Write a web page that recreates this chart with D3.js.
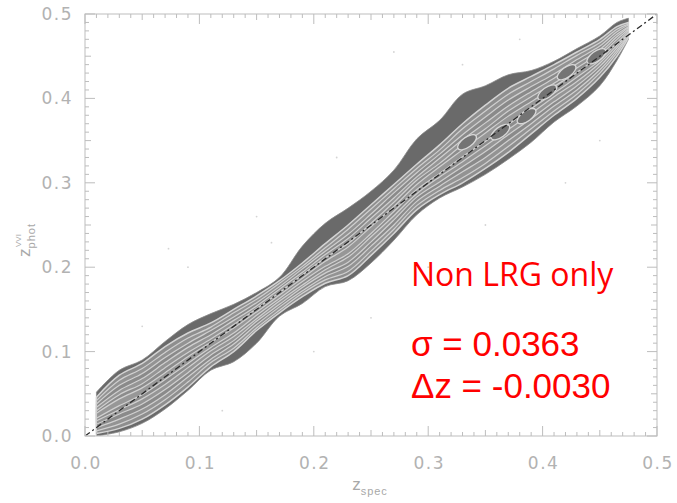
<!DOCTYPE html>
<html>
<head>
<meta charset="utf-8">
<script src="https://cdn.jsdelivr.net/npm/d3@7"></script>
<style>
body { margin: 0; background: #fff; }
</style>
</head>
<body>
<script>
// z_phot vs z_spec density contours, non-LRG sample

// axis ticks
var tickValues = [0, 0.1, 0.2, 0.3, 0.4, 0.5];
var tickLabels = ["0.0", "0.1", "0.2", "0.3", "0.4", "0.5"];

// contour envelopes (z_phot) sampled at zsGrid (z_spec)
var zsGrid     = [0.010, 0.030, 0.050, 0.070, 0.090, 0.110, 0.130, 0.150, 0.170, 0.190, 0.210, 0.230, 0.250, 0.270, 0.290, 0.310, 0.330, 0.350, 0.370, 0.390, 0.410, 0.430, 0.450, 0.465, 0.475];
var outerUpper = [0.052, 0.078, 0.090, 0.112, 0.132, 0.145, 0.156, 0.170, 0.188, 0.225, 0.252, 0.270, 0.290, 0.315, 0.352, 0.374, 0.405, 0.415, 0.428, 0.433, 0.444, 0.459, 0.474, 0.490, 0.495];
var outerLower = [0.000, 0.005, 0.015, 0.032, 0.054, 0.078, 0.088, 0.110, 0.142, 0.157, 0.177, 0.184, 0.205, 0.232, 0.262, 0.282, 0.295, 0.310, 0.328, 0.348, 0.372, 0.391, 0.415, 0.445, 0.470];
var bodyUpper  = [0.046, 0.072, 0.086, 0.106, 0.122, 0.134, 0.150, 0.166, 0.184, 0.205, 0.228, 0.250, 0.274, 0.298, 0.322, 0.345, 0.370, 0.392, 0.412, 0.426, 0.440, 0.455, 0.470, 0.485, 0.490];
var bodyLower  = [0.003, 0.009, 0.020, 0.037, 0.058, 0.082, 0.100, 0.125, 0.146, 0.165, 0.181, 0.190, 0.214, 0.240, 0.268, 0.286, 0.300, 0.317, 0.336, 0.358, 0.380, 0.400, 0.425, 0.450, 0.472];
var ridge      = [0.024, 0.040, 0.053, 0.071, 0.090, 0.108, 0.125, 0.145, 0.165, 0.185, 0.204, 0.220, 0.244, 0.269, 0.295, 0.315, 0.335, 0.354, 0.374, 0.392, 0.410, 0.428, 0.448, 0.468, 0.481];

// half widths of the inner contour levels around the ridge
var level2 = [0.018, 0.026, 0.027, 0.028, 0.026, 0.021, 0.021, 0.017, 0.016, 0.016, 0.019, 0.025, 0.025, 0.024, 0.022, 0.024, 0.029, 0.031, 0.031, 0.028, 0.025, 0.023, 0.018, 0.014, 0.007];
var level3 = [0.014, 0.020, 0.021, 0.022, 0.020, 0.017, 0.016, 0.013, 0.012, 0.013, 0.015, 0.019, 0.019, 0.019, 0.017, 0.019, 0.022, 0.024, 0.024, 0.022, 0.019, 0.018, 0.014, 0.011, 0.006];
var level4 = [0.010, 0.014, 0.015, 0.016, 0.015, 0.012, 0.012, 0.009, 0.009, 0.009, 0.011, 0.014, 0.014, 0.013, 0.012, 0.014, 0.016, 0.017, 0.017, 0.016, 0.014, 0.013, 0.010, 0.008, 0.004];
var level5 = [0.006, 0.009, 0.009, 0.010, 0.009, 0.007, 0.007, 0.006, 0.005, 0.006, 0.007, 0.008, 0.008, 0.008, 0.008, 0.008, 0.010, 0.010, 0.011, 0.010, 0.008, 0.008, 0.006, 0.005, 0.003];
var level6 = [0.003, 0.004, 0.004, 0.004, 0.004, 0.003, 0.003, 0.002, 0.002, 0.002, 0.003, 0.004, 0.004, 0.003, 0.003, 0.004, 0.004, 0.005, 0.005, 0.004, 0.004, 0.003, 0.003, 0.002, 0.001];

// density peaks along the ridge (z_spec, z_phot)
var peakZs = [0.334, 0.363, 0.386, 0.404, 0.421, 0.447];
var peakZp = [0.348, 0.360, 0.379, 0.407, 0.431, 0.450];

// a few stray points off the relation
var strayZs = [0.050, 0.073, 0.163, 0.120, 0.200, 0.270, 0.300, 0.350, 0.420, 0.150, 0.220, 0.450, 0.380, 0.090, 0.330, 0.250];
var strayZp = [0.130, 0.222, 0.229, 0.030, 0.100, 0.455, 0.200, 0.250, 0.300, 0.260, 0.330, 0.350, 0.470, 0.200, 0.440, 0.140];

var oneToOne = [[0, 0], [0.5, 0.5]];

var width = 677, height = 503;

var svg = d3.select("body").append("svg")
    .attr("width", width)
    .attr("height", height);

var x = d3.scaleLinear().domain([0, 0.5]).range([85, 657]);
var y = d3.scaleLinear().domain([0, 0.5]).range([436, 14]);

svg.append("clipPath").attr("id", "plotclip")
    .append("rect")
    .attr("x", x(0)).attr("y", y(0.5))
    .attr("width", x(0.5) - x(0)).attr("height", y(0) - y(0.5));

var plot = svg.append("g").attr("clip-path", "url(#plotclip)");

// stray points
plot.selectAll(".stray")
    .data(strayZs)
    .enter().append("circle")
    .attr("class", "stray")
    .attr("cx", function(d) { return x(d); })
    .attr("cy", function(d, i) { return y(strayZp[i]); })
    .attr("r", 0.9)
    .style("fill", "#d4d4d4");

var band = function(lo, hi) {
    return d3.area()
        .x(function(d, i) { return x(zsGrid[i]); })
        .y0(function(d, i) { return y(lo(i)); })
        .y1(function(d, i) { return y(hi(i)); })
        .curve(d3.curveCatmullRom.alpha(0.5))(zsGrid);
};

// outer contour
plot.append("path")
    .attr("d", band(function(i) { return outerLower[i]; }, function(i) { return outerUpper[i]; }))
    .style("fill", "#6a6a6a")
    .style("stroke", "#8a8a8a")
    .style("stroke-width", 0.8);

// main body
plot.append("path")
    .attr("d", band(function(i) { return bodyLower[i]; }, function(i) { return bodyUpper[i]; }))
    .style("fill", "#8e8e8e")
    .style("stroke", "#d4d4d4")
    .style("stroke-width", 1.5);

// nested levels
var levels = [level2, level3, level4, level5, level6];
var levelFill = ["#939393", "#8a8a8a", "#959595", "#8c8c8c", "#979797"];
levels.forEach(function(hw, k) {
    plot.append("path")
        .attr("d", band(function(i) { return ridge[i] - hw[i]; }, function(i) { return ridge[i] + hw[i]; }))
        .style("fill", levelFill[k])
        .style("stroke", "#d0d0d0")
        .style("stroke-width", 1.2);
});

// peaks
plot.selectAll(".peak")
    .data(peakZs)
    .enter().append("ellipse")
    .attr("class", "peak")
    .attr("transform", function(d, i) {
        return "translate(" + x(d) + "," + y(peakZp[i]) + ") rotate(-36)";
    })
    .attr("rx", 11)
    .attr("ry", 5)
    .style("fill", "#747474")
    .style("stroke", "#d8d8d8")
    .style("stroke-width", 1.3);

// one-to-one line
plot.append("path")
    .attr("d", d3.line()
        .x(function(d) { return x(d[0]); })
        .y(function(d) { return y(d[1]); })(oneToOne))
    .style("fill", "none")
    .style("stroke", "#2a2a2a")
    .style("stroke-width", 1.3)
    .style("stroke-dasharray", "6,3,2,3");

// frame
var axisColor = "#bdbdbd";
svg.append("rect")
    .attr("x", x(0)).attr("y", y(0.5))
    .attr("width", x(0.5) - x(0)).attr("height", y(0) - y(0.5))
    .style("fill", "none")
    .style("stroke", axisColor)
    .style("stroke-width", 1);

var minor = d3.range(0, 0.5001, 0.01);
var tickLen = function(v) {
    var k = Math.round(v * 100);
    if (k % 10 === 0) return 10;
    if (k % 5 === 0) return 6;
    return 4;
};

var ticks = svg.append("g").style("stroke", axisColor).style("stroke-width", 1);
minor.forEach(function(v) {
    var L = tickLen(v);
    // bottom and top
    ticks.append("line").attr("x1", x(v)).attr("x2", x(v)).attr("y1", y(0)).attr("y2", y(0) - L);
    ticks.append("line").attr("x1", x(v)).attr("x2", x(v)).attr("y1", y(0.5)).attr("y2", y(0.5) + L);
    // left and right
    ticks.append("line").attr("y1", y(v)).attr("y2", y(v)).attr("x1", x(0)).attr("x2", x(0) + L);
    ticks.append("line").attr("y1", y(v)).attr("y2", y(v)).attr("x1", x(0.5)).attr("x2", x(0.5) - L);
});

// tick labels
var labelStyle = function(sel) {
    sel.style("font-family", "DejaVu Sans, sans-serif")
        .style("font-size", "17px")
        .style("letter-spacing", "1.5px")
        .style("fill", "#b2b2b2");
};

svg.selectAll(".xlab")
    .data(tickValues)
    .enter().append("text")
    .attr("class", "xlab")
    .attr("x", function(d) { return x(d) + 1; })
    .attr("y", 469)
    .style("text-anchor", "middle")
    .text(function(d, i) { return tickLabels[i]; })
    .call(labelStyle);

svg.selectAll(".ylab")
    .data(tickValues)
    .enter().append("text")
    .attr("class", "ylab")
    .attr("x", 73)
    .attr("y", function(d) { return y(d); })
    .attr("dy", "0.35em")
    .style("text-anchor", "end")
    .text(function(d, i) { return tickLabels[i]; })
    .call(labelStyle);

// axis titles
var xTitle = svg.append("text")
    .attr("x", 370)
    .attr("y", 490)
    .style("text-anchor", "middle")
    .style("font-family", "Liberation Sans, Arial, sans-serif")
    .style("fill", "#a8a8a8");
xTitle.append("tspan").style("font-size", "17px").text("z");
xTitle.append("tspan").attr("dy", 5).style("font-size", "11px").style("letter-spacing", "1px").text("spec");

var yTitle = svg.append("text")
    .attr("transform", "translate(30,240) rotate(-90)")
    .style("text-anchor", "middle")
    .style("font-family", "Liberation Sans, Arial, sans-serif")
    .style("fill", "#a8a8a8");
yTitle.append("tspan").style("font-size", "17px").text("z");
yTitle.append("tspan").attr("dy", 5).style("font-size", "11px").style("letter-spacing", "1px").text("phot");
yTitle.append("tspan").attr("dx", -24).attr("dy", -14).style("font-size", "8px").text("VVI");

// annotation
var red = "#ff0000";
svg.append("text")
    .attr("x", 411).attr("y", 286)
    .style("font-family", "Open Sans, sans-serif")
    .style("font-size", "32px")
    .style("fill", red)
    .text("Non LRG only");

svg.append("text")
    .attr("x", 411).attr("y", 356)
    .style("font-family", "Liberation Sans, Arial, sans-serif")
    .style("font-size", "35px")
    .style("fill", red)
    .text("\u03c3 = 0.0363");

svg.append("text")
    .attr("x", 411).attr("y", 398)
    .style("font-family", "Liberation Sans, Arial, sans-serif")
    .style("font-size", "35px")
    .style("fill", red)
    .text("\u0394z = -0.0030");
</script>
</body>
</html>
